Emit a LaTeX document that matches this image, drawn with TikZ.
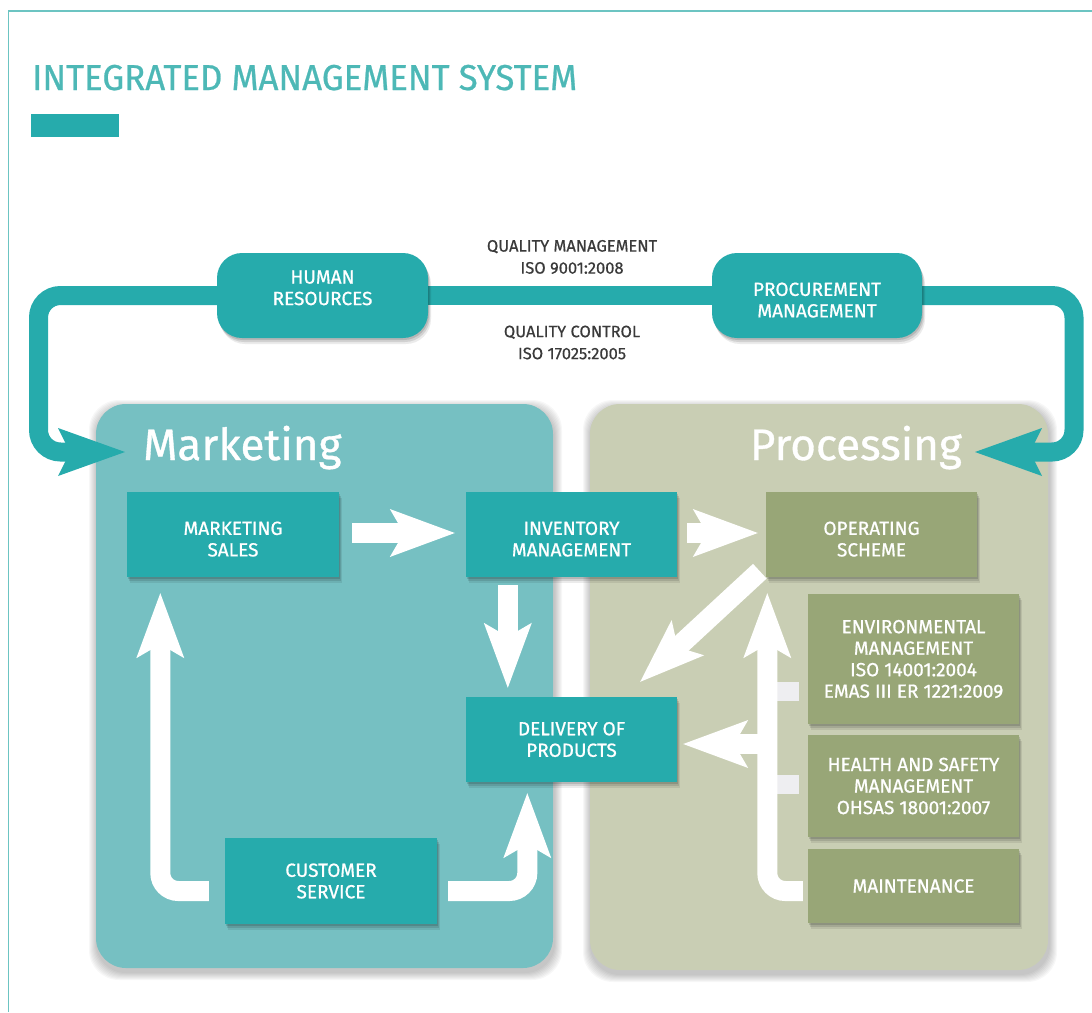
\documentclass[tikz,border=0pt]{standalone}
\usepackage{fontspec}
\setmainfont{Fira Sans}
\newfontfamily\medfont{Fira Sans}[FakeBold=0.8]
\newfontfamily\labfont{Fira Sans}[FakeBold=0.6]
\newfontfamily\ttlfont{Fira Sans}[FakeBold=0.7, FakeStretch=0.965]
\usetikzlibrary{arrows.meta,shadows,calc}
\definecolor{teal1}{RGB}{38,171,172}
\definecolor{tealpanel}{RGB}{118,192,194}
\definecolor{olivepanel}{RGB}{201,206,180}
\definecolor{olive1}{RGB}{152,166,119}
\definecolor{titlec}{RGB}{77,184,182}
\definecolor{framec}{RGB}{108,196,194}
\definecolor{graytext}{RGB}{58,58,58}
\definecolor{stubc}{RGB}{238,238,241}
\pgfdeclarelayer{panels}
\pgfdeclarelayer{links}
\pgfsetlayers{panels,links,main}
\newcommand{\boxfont}{\medfont\fontsize{19}{21.5}\selectfont}
\newcommand{\dn}{\mbox{}\\[1pt]}
\begin{document}
\begin{tikzpicture}[x=1pt,y=-1pt,
  boxshadow/.style={
    general shadow={fill=black, opacity=0.13, shadow xshift=1pt, shadow yshift=-2pt},
    general shadow={fill=black, opacity=0.11, shadow xshift=2pt, shadow yshift=-4pt},
    general shadow={fill=black, opacity=0.08, shadow xshift=3pt, shadow yshift=-6pt}},
  tbox/.style={rectangle, fill=teal1, text=white, font=\boxfont, align=center,
    inner sep=0pt, minimum width=211pt, minimum height=85pt, boxshadow},
  obox/.style={tbox, fill=olive1},
  rbox/.style={tbox, rounded corners=25pt},
  panel/.style={rectangle, rounded corners=30pt, inner sep=0pt},
  bigt/.style={text=white, font=\medfont\fontsize{44}{44}\selectfont, inner sep=0pt},
  glabel/.style={text=graytext, font=\labfont\fontsize{16.5}{22}\selectfont, align=center, inner sep=0pt},
  warrow/.style={draw=white, line width=20pt,
    -{Stealth[length=65pt, width=48pt, inset=14pt, line width=0pt]}},
  loopline/.style={draw=teal1, line width=19pt,
    -{Stealth[length=67pt, width=48pt, inset=12pt, line width=0pt]}},
  stub/.style={draw=stubc, line width=19pt}
]
\useasboundingbox (0,0) rectangle (1092,1012);

% frame and title
\draw[framec, line width=1.4pt] (1092,11) -- (8.5,11) -- (8.5,1012);
\node[anchor=base west, text=titlec, font=\ttlfont\fontsize{36}{36}\selectfont, inner sep=0pt]
  (title) at (32,90) {INTEGRATED MANAGEMENT SYSTEM};
\fill[teal1] (31,114) rectangle (119,137);

% panels with soft shadows
\begin{pgfonlayer}{panels}
\foreach \i in {1,...,8} {
  \fill[black, opacity=0.03, rounded corners=30pt]
    (96-\i+1, 404-\i+4) rectangle (553+\i+1, 968+\i+4);
  \fill[black, opacity=0.03, rounded corners=30pt]
    (590-\i+1, 404-\i+4) rectangle (1048+\i+1, 970+\i+4);
}
\node[panel, fill=tealpanel, minimum width=457pt, minimum height=564pt] (mkpanel) at (324.5,686) {};
\node[panel, fill=olivepanel, minimum width=458pt, minimum height=566pt] (prpanel) at (819,687) {};
\end{pgfonlayer}

% panel titles
\node[bigt, anchor=base west] (mkt) at (143,460) {Marketing};
\node[bigt, anchor=base east] (prc) at (962,460) {Processing};

% top labels
\node[glabel] (qm) at (572,257) {QUALITY MANAGEMENT\\ISO 9001:2008};
\node[glabel] (qc) at (572,342.5) {QUALITY CONTROL\\ISO 17025:2005};

% boxes
\node[rbox] (hr) at (322.5,295.5) {HUMAN\\RESOURCES\\[-6pt]\mbox{}};
\node[rbox, minimum width=210pt] (proc) at (817,295.5) {\dn PROCUREMENT\\MANAGEMENT};
\node[tbox, minimum width=212pt] (ms) at (233,534.5) {\dn MARKETING\\SALES};
\node[tbox] (inv) at (571.5,534.5) {\dn INVENTORY\\MANAGEMENT};
\node[obox] (op) at (871.5,534.5) {\dn OPERATING\\SCHEME};
\node[tbox] (del) at (571.5,739.5) {DELIVERY OF\\PRODUCTS};
\node[tbox, minimum width=212pt, minimum height=86pt] (cust) at (331,881) {CUSTOMER\\SERVICE};
\node[obox, minimum height=130pt] (env) at (913.5,659) {ENVIRONMENTAL\\MANAGEMENT\\ISO 14001:2004\\EMAS III ER 1221:2009};
\node[obox, minimum height=102pt] (hs) at (913.5,786) {HEALTH AND SAFETY\\MANAGEMENT\\OHSAS 18001:2007};
\node[obox, minimum height=74pt] (maint) at (913.5,886) {MAINTENANCE};

\coordinate (mtip) at (125,452);
\coordinate (ptip) at (975,452);

\begin{pgfonlayer}{links}
% outer loop
\draw[loopline, rounded corners=22pt] (hr.west) -| (38.5,452) -- (mtip);
\draw[loopline, rounded corners=22pt] (proc.east) -| (1074,452) -- (ptip);
\draw[draw=teal1, line width=19pt] (hr.east) -- (proc.west);
% marketing side
\draw[warrow] ($(ms.east)+(13,-1.5)$) -- ($(inv.west)+(-11,-1.5)$);
\draw[warrow] ($(inv.south west)+(42,8)$) -- ($(del.north west)+(42,-9)$);
\draw[warrow, rounded corners=18pt] ($(cust.west)+(-16,10)$) -| ($(ms.south west)+(33.5,16)$);
\draw[warrow, rounded corners=18pt] ($(cust.east)+(11,10)$) -| ($(del.south west)+(61.5,11)$);
% processing side
\draw[warrow] ($(inv.east)+(10,-1.5)$) -- ($(op.west)+(-8,-1.5)$);
\draw[warrow] ($(op.south west)+(-6,-6)$) -- ($(del.north east)+(-37,-15)$);
\draw[stub] ($(env.west)+(-9,32.5)$) -- ($(env.west)+(-40.5,32.5)$);
\draw[stub] ($(hs.west)+(-9,-2)$) -- ($(hs.west)+(-40.5,-2)$);
\draw[warrow, rounded corners=18pt] ($(maint.west)+(-5,5)$) -| ($(op.south west)+(1.5,16)$);
\draw[warrow] ($(hs.west)+(-40.5,-42)$) -- ($(del.east)+(6,4.5)$);
\end{pgfonlayer}
\end{tikzpicture}
\end{document}
